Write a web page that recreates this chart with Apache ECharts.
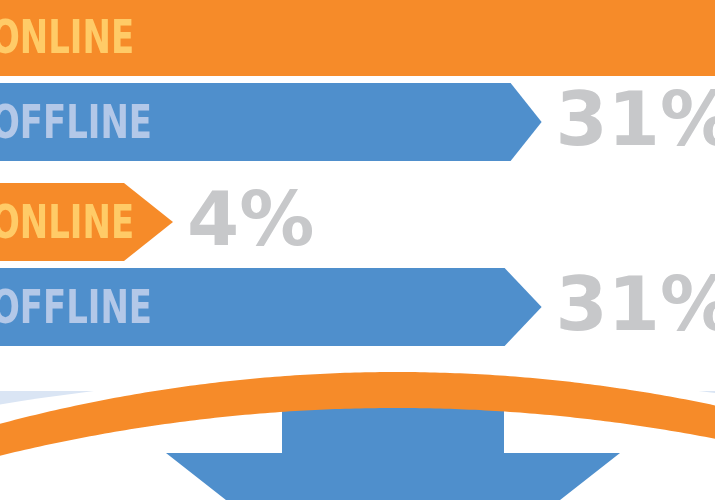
<!DOCTYPE html>
<html><head><meta charset="utf-8">
<script src="https://cdn.jsdelivr.net/npm/echarts@6/dist/echarts.min.js"></script>
<style>html,body{margin:0;padding:0;background:#fff;overflow:hidden}#c{width:715px;height:500px}</style>
</head><body><div id="c"></div>
<script>
// ---- data ----
const categories = ['ONLINE', 'OFFLINE'];
const groupA = [65, 31];   // top ONLINE bar runs past the right edge (value estimated)
const groupB = [4, 31];
const valueSuffix = '%';

// ---- styles ----
const ORANGE = '#F68B29', BLUE = '#4F8FCC';
const barFill = [ORANGE, BLUE];
const labelFill = ['#FFCB67', '#B3C8E8'];
const tipLen = [[40, 31], [49, 37]];
const catFont = 'bold 46px "DejaVu Sans Condensed", sans-serif';
const valFont = 'bold 75px "DejaVu Sans", sans-serif';

function makeSeries(values, gi) {
  return {
    type: 'custom', xAxisIndex: gi, yAxisIndex: gi, clip: false,
    data: values.map((v, i) => [v, i]),
    renderItem(params, api) {
      const i = params.dataIndex;
      const v = api.value(0);
      const p = api.coord([v, api.value(1)]);
      const band = api.size([0, 1])[1];
      const h = band * 0.918;
      const cy = p[1], tx = p[0];
      const fx = tx - tipLen[gi][i];
      const top = cy - h / 2, bot = cy + h / 2;
      return {
        type: 'group', children: [
          { type: 'polygon', shape: { points: [[-30, top], [fx, top], [tx, cy], [fx, bot], [-30, bot]] }, style: { fill: barFill[i] } },
          { type: 'text', x: -9, y: cy + 4, scaleX: 0.82, style: { text: categories[i], x: 0, y: 0, verticalAlign: 'middle', font: catFont, fill: labelFill[i] } },
          { type: 'text', style: { text: v + valueSuffix, x: tx + 14, y: cy + 4, verticalAlign: 'middle', font: valFont, fill: '#C7C8CA' } }
        ]
      };
    }
  };
}

// decorative arc band (not data)
function bandPoints() {
  const pts = [];
  for (let x = -20; x <= 735; x += 5) pts.push([x, 1912 - Math.sqrt(1540 * 1540 - (x - 396) * (x - 396))]);
  for (let x = 735; x >= -20; x -= 5) pts.push([x, 2076 - Math.sqrt(1668 * 1668 - (x - 396) * (x - 396))]);
  return pts;
}

const chart = echarts.init(document.getElementById('c'), null, { renderer: 'canvas' });
chart.setOption({
  animation: false,
  backgroundColor: '#fff',
  grid: [
    { left: 0, right: 0, top: 37, height: 85 },
    { left: 0, right: 0, top: 222, height: 85 }
  ],
  xAxis: [
    { type: 'value', gridIndex: 0, min: -8.67, max: 43.7, show: false },
    { type: 'value', gridIndex: 1, min: -8.67, max: 43.7, show: false }
  ],
  yAxis: [
    { type: 'category', gridIndex: 0, data: categories, inverse: true, boundaryGap: false, show: false },
    { type: 'category', gridIndex: 1, data: categories, inverse: true, boundaryGap: false, show: false }
  ],
  series: [makeSeries(groupA, 0), makeSeries(groupB, 1)],
  graphic: [
    { type: 'rect', shape: { x: 0, y: 391, width: 715, height: 80 }, style: { fill: '#DAE5F4' }, silent: true },
    { type: 'circle', shape: { cx: 396, cy: 372 + 2430, r: 2430 }, style: { fill: '#fff' }, silent: true },
    { type: 'polygon', shape: { points: [[282, 400], [504, 400], [504, 453], [620, 453], [393, 631], [166, 453], [282, 453]] }, style: { fill: BLUE }, silent: true },
    { type: 'polygon', shape: { points: bandPoints() }, style: { fill: ORANGE }, silent: true }
  ]
});
</script>
</body></html>
